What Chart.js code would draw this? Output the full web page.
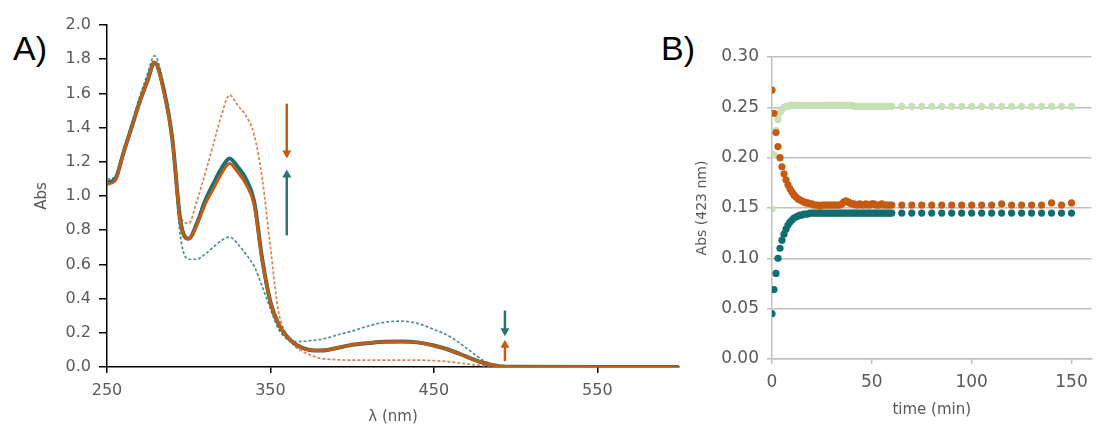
<!DOCTYPE html>
<html>
<head>
<meta charset="utf-8">
<script src="https://cdn.jsdelivr.net/npm/chart.js@4.4.1/dist/chart.umd.min.js"></script>
<style>
  body { margin: 0; background: #fff; width: 1096px; height: 428px; overflow: hidden; position: relative; }
  #chartA { position: absolute; left: 0; top: 0; }
  #chartB { position: absolute; left: 690px; top: 0; }
  .panel { position: absolute; font-family: 'Liberation Sans', sans-serif; font-size: 34px; line-height: 1; color: #000; }
</style>
</head>
<body>
<div class="panel" style="left:13px;top:31px">A)</div>
<div class="panel" style="left:661px;top:31px">B)</div>
<canvas id="chartA" width="690" height="428"></canvas>
<canvas id="chartB" width="406" height="428"></canvas>
<script>
// panel A: spectra
const wavelengths = [250, 255, 260, 265, 270, 275, 279, 285, 290, 295, 300, 305, 310, 315, 320, 325, 330, 335, 340, 345,
  350, 355, 360, 365, 370, 375, 380, 385, 390, 395, 400, 410, 420, 430, 440, 450, 460, 470, 480, 490, 500, 550, 600]
const orangeSolid = [1.07, 1.09, 1.25, 1.40, 1.55, 1.68, 1.78, 1.60, 1.33, 0.84, 0.75, 0.83, 0.95, 1.04, 1.13, 1.19, 1.14, 1.07, 0.95, 0.62,
  0.38, 0.25, 0.18, 0.135, 0.11, 0.098, 0.097, 0.10, 0.11, 0.12, 0.13, 0.14, 0.147, 0.148, 0.143, 0.125, 0.097, 0.06, 0.025, 0.005, 0.001, 0, 0]
const tealSolid = [1.08, 1.10, 1.25, 1.40, 1.55, 1.68, 1.78, 1.61, 1.33, 0.85, 0.75, 0.84, 0.97, 1.07, 1.16, 1.22, 1.17, 1.10, 0.97, 0.63,
  0.38, 0.25, 0.18, 0.135, 0.11, 0.098, 0.097, 0.10, 0.11, 0.12, 0.13, 0.14, 0.148, 0.149, 0.144, 0.126, 0.098, 0.06, 0.025, 0.005, 0.001, 0, 0]
const orangeDotted = [1.08, 1.10, 1.25, 1.41, 1.56, 1.69, 1.79, 1.61, 1.33, 0.88, 0.84, 0.97, 1.13, 1.30, 1.47, 1.59, 1.53, 1.47, 1.36, 1.10,
  0.70, 0.32, 0.19, 0.12, 0.09, 0.068, 0.052, 0.046, 0.043, 0.041, 0.04, 0.04, 0.04, 0.04, 0.04, 0.037, 0.03, 0.018, 0.008, 0.002, 0, 0, 0]
const tealDotted = [1.10, 1.11, 1.27, 1.42, 1.58, 1.72, 1.82, 1.63, 1.30, 0.76, 0.63, 0.63, 0.66, 0.70, 0.74, 0.76, 0.72, 0.66, 0.59, 0.47,
  0.34, 0.22, 0.165, 0.148, 0.15, 0.155, 0.16, 0.17, 0.185, 0.198, 0.21, 0.24, 0.262, 0.268, 0.255, 0.22, 0.177, 0.11, 0.04, 0.005, 0.002, 0, 0]
const xTicksA = [250, 350, 450, 550]

// arrows on panel A (data units)
const arrows = [
  { x: 360, from: 1.54, to: 1.22, color: '#c55a11' },
  { x: 360, from: 0.77, to: 1.155, color: '#2a7377' },
  { x: 493.5, from: 0.33, to: 0.18, color: '#2a7377' },
  { x: 493.5, from: 0.035, to: 0.16, color: '#c55a11' }
]

// panel B: kinetics at 423 nm
const timeB = [0, 1, 2, 3, 4, 5, 6, 7, 8, 9, 10, 11, 12, 13, 14, 15, 16, 17, 18, 19, 20,
  21, 22, 23, 24, 25, 26, 27, 28, 29, 30, 31, 32, 33, 34, 35, 36, 37, 38, 39, 40,
  41, 42, 43, 44, 45, 46, 47, 48, 49, 50, 51, 52, 53, 54, 55, 56, 57, 58, 59, 60,
  65, 70, 75, 80, 85, 90, 95, 100, 105, 110, 115, 120, 125, 130, 135, 140, 145, 150]
const orangeB = [0.267, 0.244, 0.225, 0.211, 0.200, 0.191, 0.184, 0.178, 0.173, 0.169, 0.166, 0.163, 0.161, 0.159, 0.158, 0.157, 0.156, 0.155, 0.155, 0.154, 0.154,
  0.153, 0.153, 0.153, 0.152, 0.153, 0.153, 0.153, 0.153, 0.153, 0.153, 0.153, 0.153, 0.153, 0.153, 0.154, 0.156, 0.157, 0.156, 0.155, 0.154,
  0.154, 0.153, 0.153, 0.154, 0.153, 0.153, 0.154, 0.153, 0.153, 0.154, 0.154, 0.153, 0.153, 0.153, 0.154, 0.153, 0.153, 0.153, 0.153, 0.153,
  0.153, 0.153, 0.153, 0.153, 0.153, 0.153, 0.153, 0.153, 0.153, 0.153, 0.154, 0.153, 0.153, 0.153, 0.153, 0.155, 0.153, 0.155]
const tealB = [0.045, 0.069, 0.085, 0.100, 0.110, 0.118, 0.124, 0.129, 0.133, 0.136, 0.138, 0.140, 0.141, 0.142, 0.143, 0.143, 0.144, 0.144, 0.144, 0.145, 0.145,
  0.145, 0.145, 0.145, 0.145, 0.145, 0.145, 0.145, 0.145, 0.145, 0.145, 0.145, 0.145, 0.145, 0.145, 0.145, 0.145, 0.145, 0.145, 0.145, 0.145,
  0.145, 0.145, 0.145, 0.145, 0.145, 0.145, 0.145, 0.145, 0.145, 0.145, 0.145, 0.145, 0.145, 0.145, 0.145, 0.145, 0.145, 0.145, 0.145, 0.145,
  0.145, 0.145, 0.145, 0.145, 0.145, 0.145, 0.145, 0.145, 0.145, 0.145, 0.145, 0.145, 0.145, 0.145, 0.145, 0.145, 0.145, 0.145]
const greenB = [0.149, 0.203, 0.227, 0.238, 0.245, 0.248, 0.250, 0.251, 0.251, 0.252, 0.252, 0.252, 0.252, 0.252, 0.252, 0.252, 0.252, 0.252, 0.252, 0.252, 0.252,
  0.252, 0.252, 0.252, 0.252, 0.252, 0.252, 0.252, 0.252, 0.252, 0.252, 0.252, 0.252, 0.252, 0.252, 0.252, 0.252, 0.252, 0.252, 0.252, 0.252,
  0.251, 0.251, 0.251, 0.251, 0.251, 0.251, 0.251, 0.251, 0.251, 0.251, 0.251, 0.251, 0.251, 0.251, 0.251, 0.251, 0.251, 0.251, 0.251, 0.251,
  0.251, 0.251, 0.251, 0.251, 0.251, 0.251, 0.251, 0.251, 0.251, 0.251, 0.251, 0.251, 0.251, 0.251, 0.251, 0.251, 0.251, 0.251]
const xTicksB = [0, 50, 100, 150]

const labelGray = '#595959'
Chart.defaults.font.family = "'DejaVu Sans', sans-serif"
Chart.defaults.color = labelGray

function toPoints(xs, ys) {
  return xs.map((x, i) => ({ x: x, y: ys[i] }))
}

// draws the up/down arrows
const arrowPlugin = {
  id: 'arrows',
  afterDatasetsDraw(chart) {
    const ctx = chart.ctx
    const xs = chart.scales.x
    const ys = chart.scales.y
    arrows.forEach(a => {
      const x = xs.getPixelForValue(a.x)
      const y0 = ys.getPixelForValue(a.from)
      const y1 = ys.getPixelForValue(a.to)
      const dir = y1 > y0 ? 1 : -1
      ctx.save()
      ctx.strokeStyle = a.color
      ctx.fillStyle = a.color
      ctx.lineWidth = 2.5
      ctx.beginPath()
      ctx.moveTo(x, y0)
      ctx.lineTo(x, y1 - dir * 6)
      ctx.stroke()
      ctx.beginPath()
      ctx.moveTo(x - 4.5, y1 - dir * 8)
      ctx.lineTo(x + 4.5, y1 - dir * 8)
      ctx.lineTo(x, y1)
      ctx.closePath()
      ctx.fill()
      ctx.restore()
    })
  }
}

function lineSet(data, color, width, dash) {
  return {
    data: toPoints(wavelengths, data),
    borderColor: color,
    borderWidth: width,
    borderDash: dash,
    pointRadius: 0,
    cubicInterpolationMode: 'monotone',
    fill: false
  }
}

new Chart(document.getElementById('chartA'), {
  type: 'line',
  data: {
    datasets: [
      lineSet(orangeSolid, '#c55a11', 3, []),
      lineSet(tealSolid, '#1f6f72', 4, []),
      lineSet(orangeDotted, '#df7f4f', 1.7, [3, 2]),
      lineSet(tealDotted, '#4b8f92', 1.7, [3, 2])
    ]
  },
  options: {
    responsive: false,
    animation: false,
    layout: { padding: { top: 25, right: 11, left: 0, bottom: 0 } },
    plugins: { legend: { display: false }, tooltip: { enabled: false } },
    scales: {
      x: {
        type: 'linear',
        min: 250,
        max: 600,
        afterBuildTicks: s => { s.ticks = xTicksA.map(v => ({ value: v })) },
        afterFit: s => { s.height = 61 },
        ticks: { font: { size: 16 }, padding: 8, maxRotation: 0 },
        grid: { drawOnChartArea: false, color: '#000', lineWidth: 1.5, tickLength: 6 },
        border: { color: '#000', width: 1.5 },
        title: { display: true, text: 'λ (nm)', font: { size: 15 }, padding: { top: 0, bottom: 2 } }
      },
      y: {
        min: 0,
        max: 2.0,
        afterFit: s => { s.width = 107 },
        ticks: { stepSize: 0.2, font: { size: 16 }, padding: 8, callback: v => v.toFixed(1) },
        grid: { drawOnChartArea: false, color: '#000', lineWidth: 1.5, tickLength: 8 },
        border: { color: '#000', width: 1.5 },
        title: { display: true, text: 'Abs', font: { size: 15 }, padding: { top: 33, bottom: 0 } }
      }
    }
  },
  plugins: [arrowPlugin]
})

function dotSet(data, color) {
  return {
    data: toPoints(timeB, data),
    backgroundColor: color,
    borderWidth: 0,
    pointRadius: 3.6
  }
}

new Chart(document.getElementById('chartB'), {
  type: 'scatter',
  data: {
    datasets: [
      dotSet(orangeB, '#c55a11'),
      dotSet(tealB, '#0f6e70'),
      dotSet(greenB, '#c5e0b4')
    ]
  },
  options: {
    responsive: false,
    animation: false,
    layout: { padding: { top: 57, right: 3, left: 0, bottom: 0 } },
    plugins: { legend: { display: false }, tooltip: { enabled: false } },
    scales: {
      x: {
        type: 'linear',
        min: 0,
        max: 160,
        afterBuildTicks: s => { s.ticks = xTicksB.map(v => ({ value: v })) },
        afterFit: s => { s.height = 69 },
        ticks: { font: { size: 17 }, padding: 8, maxRotation: 0 },
        grid: { drawOnChartArea: false, color: '#bfbfbf', lineWidth: 1.5, tickLength: 5 },
        border: { color: '#bfbfbf', width: 1.5 },
        title: { display: true, text: 'time (min)', font: { size: 15 }, padding: { top: 0, bottom: 9 } }
      },
      y: {
        min: 0,
        max: 0.30,
        afterFit: s => { s.width = 82 },
        ticks: { stepSize: 0.05, font: { size: 17 }, padding: 8, callback: v => v.toFixed(2) },
        grid: { color: '#bfbfbf', lineWidth: 1.5, tickLength: 5 },
        border: { color: '#bfbfbf', width: 1.5 },
        title: { display: true, text: 'Abs (423 nm)', font: { size: 14 }, padding: { top: 4, bottom: 0 } }
      }
    }
  }
})
</script>
</body>
</html>
